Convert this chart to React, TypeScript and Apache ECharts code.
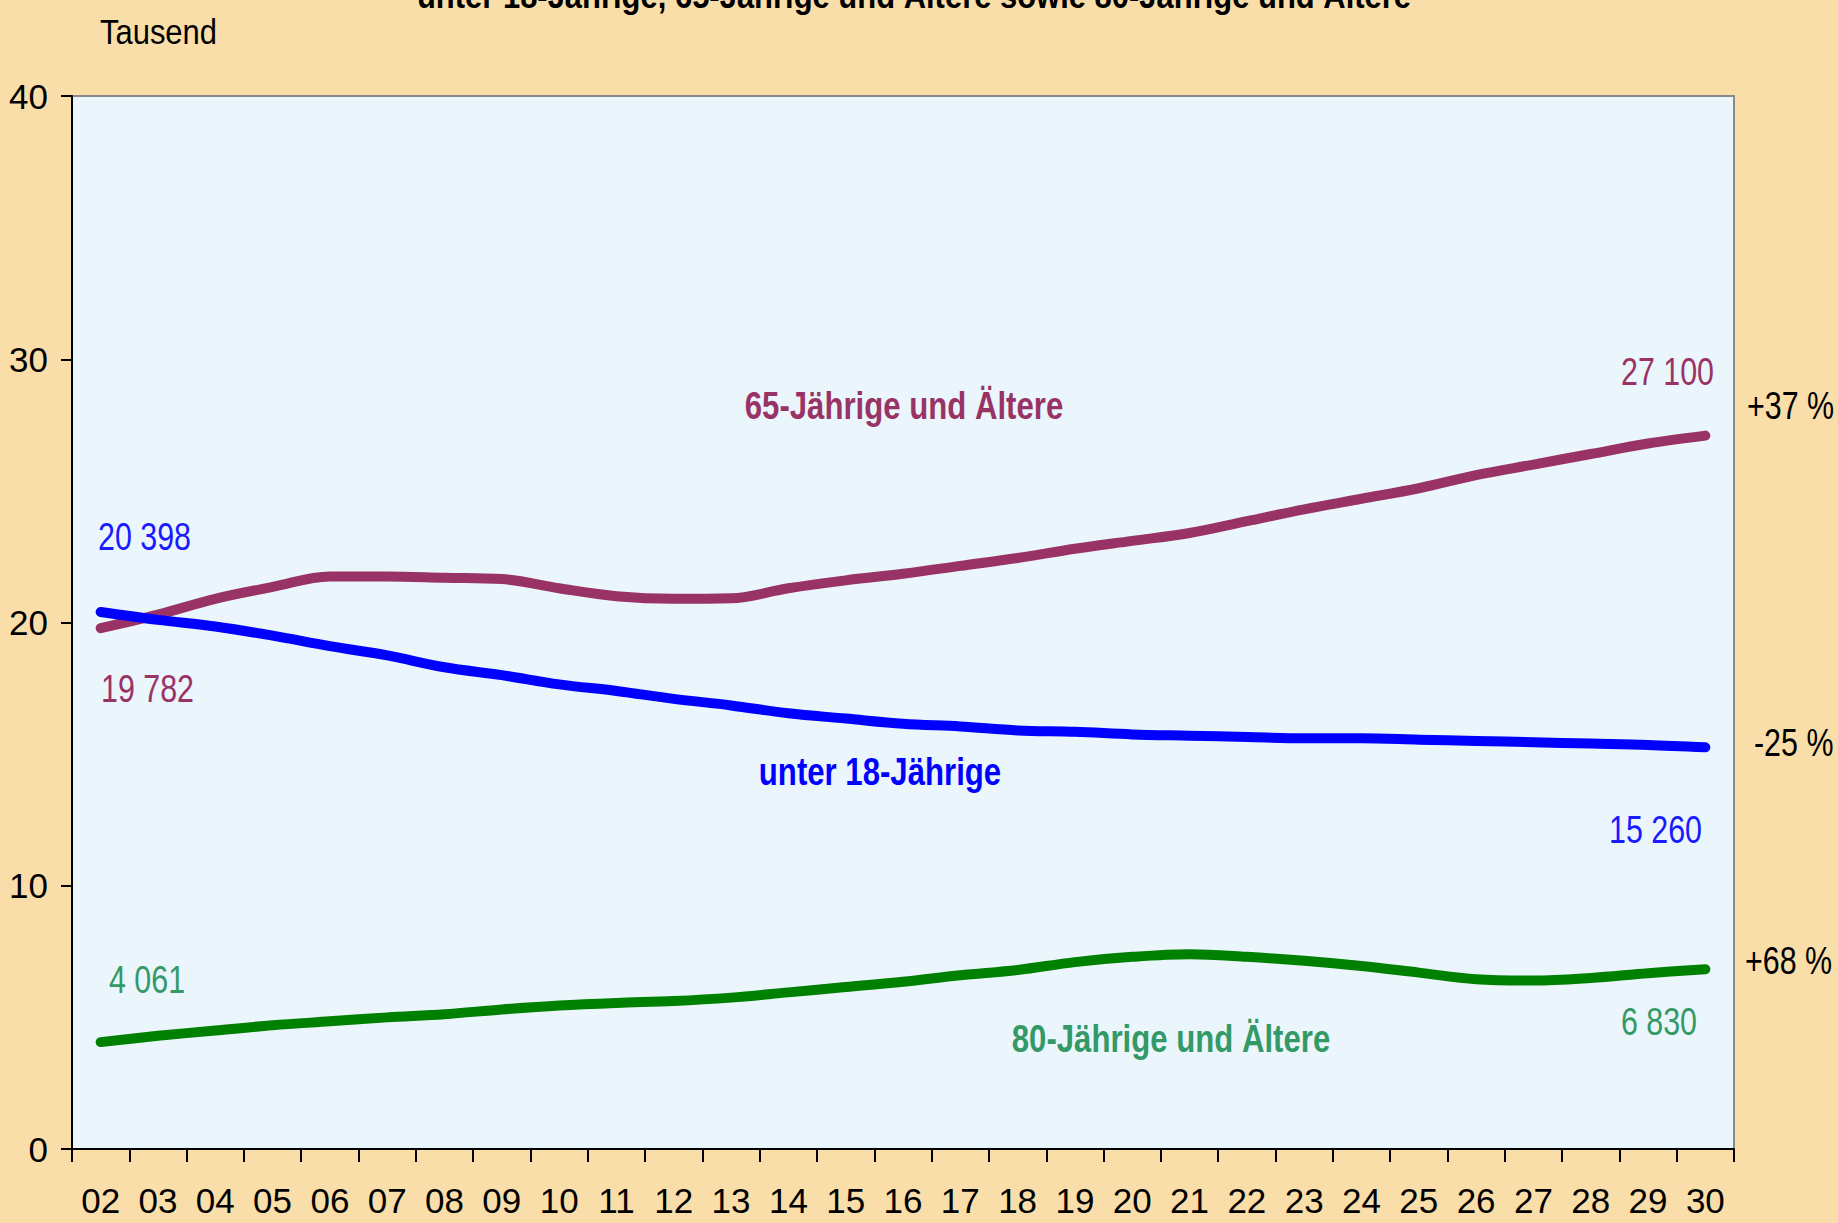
import React, { useEffect, useRef } from "react";
import * as echarts from "echarts";

const years = ["02","03","04","05","06","07","08","09","10","11","12","13","14","15","16","17","18","19","20","21","22","23","24","25","26","27","28","29","30"];
const under18 = [20.398, 20.1, 19.85, 19.5, 19.1, 18.75, 18.3, 18.0, 17.65, 17.4, 17.1, 16.85, 16.55, 16.35, 16.15, 16.05, 15.9, 15.85, 15.75, 15.7, 15.65, 15.6, 15.6, 15.55, 15.5, 15.45, 15.4, 15.35, 15.26];
const age65plus = [19.782, 20.3, 20.9, 21.35, 21.75, 21.75, 21.7, 21.65, 21.3, 21.0, 20.9, 20.92, 21.3, 21.6, 21.85, 22.15, 22.45, 22.8, 23.1, 23.4, 23.85, 24.3, 24.7, 25.1, 25.6, 26.0, 26.4, 26.8, 27.1];
const age80plus = [4.061, 4.3, 4.5, 4.7, 4.85, 5.0, 5.12, 5.3, 5.45, 5.55, 5.62, 5.75, 5.95, 6.15, 6.35, 6.6, 6.8, 7.1, 7.3, 7.4, 7.3, 7.15, 6.95, 6.7, 6.45, 6.4, 6.5, 6.68, 6.83];
const yTicks = { min: 0, max: 40, interval: 10 };
const titleText = "unter 18-Jährige, 65-Jährige und Ältere sowie 80-Jährige und Ältere";
const unitText = "Tausend";
const seriesNames = ["unter 18-Jährige", "65-Jährige und Ältere", "80-Jährige und Ältere"];
const startLabels = ["20 398", "19 782", "4 061"];
const endLabels = ["15 260", "27 100", "6 830"];
const changeLabels = ["-25 %", "+37 %", "+68 %"];

const FONT = '"Liberation Sans", Arial, sans-serif';
const BG = "#F9DEA9";
const PLOT_BG = "#EBF5FC";
const C_PURPLE = "#993366";
const C_BLUE = "#0000FF";
const C_GREEN = "#008000";
const C_GREEN_TXT = "#339966";
const C_BLUE_TXT = "#1A1AFF";

function txt(text: string, x: number, y: number, fill: string, opts: any = {}) {
  return {
    type: "text",
    x,
    y,
    scaleX: opts.scaleX ?? 0.8,
    silent: true,
    style: {
      text,
      fill,
      fontSize: opts.fontSize ?? 38,
      fontFamily: FONT,
      fontWeight: opts.bold ? "bold" : "normal",
      align: opts.align ?? "left",
      verticalAlign: "middle",
    },
  };
}

export default function App() {
  const ref = useRef<HTMLDivElement>(null);
  useEffect(() => {
    document.body.style.margin = "0";
    const chart = echarts.init(ref.current!, undefined, { renderer: "svg" });
    const lineSeries = (name: string, data: number[], color: string) => ({
      name,
      type: "line",
      data,
      smooth: 0.35,
      symbol: "none",
      lineStyle: { color, width: 10, cap: "round", join: "round" },
      z: 3,
    });
    chart.setOption({
      animation: false,
      backgroundColor: BG,
      textStyle: { fontFamily: FONT },
      grid: {
        left: 72,
        top: 96,
        right: 104,
        bottom: 74,
        show: true,
        backgroundColor: PLOT_BG,
        borderColor: "#8a8a8a",
        borderWidth: 2,
      },
      xAxis: {
        type: "category",
        data: years,
        boundaryGap: true,
        axisLine: { show: true, lineStyle: { color: "#000", width: 2 } },
        axisTick: { show: true, length: 13, lineStyle: { color: "#000", width: 2 } },
        axisLabel: { color: "#000", fontSize: 35, fontFamily: FONT, margin: 34, interval: 0 },
        splitLine: { show: false },
      },
      yAxis: {
        type: "value",
        min: yTicks.min,
        max: yTicks.max,
        interval: yTicks.interval,
        axisLine: { show: true, lineStyle: { color: "#000", width: 2 } },
        axisTick: { show: true, inside: false, length: 11, lineStyle: { color: "#000", width: 2 } },
        axisLabel: { color: "#000", fontSize: 35, fontFamily: FONT, margin: 24 },
        splitLine: { show: false },
      },
      series: [
        lineSeries(seriesNames[1], age65plus, C_PURPLE),
        lineSeries(seriesNames[0], under18, C_BLUE),
        lineSeries(seriesNames[2], age80plus, C_GREEN),
      ],
      graphic: [
        txt(titleText, 914, -4, "#000", { align: "center", bold: true, fontSize: 36, scaleX: 0.86 }),
        txt(unitText, 100, 32, "#000", { fontSize: 36, scaleX: 0.86 }),
        txt(startLabels[0], 98, 537, C_BLUE_TXT),
        txt(startLabels[1], 101, 689, C_PURPLE),
        txt(startLabels[2], 109, 980, C_GREEN_TXT),
        txt(seriesNames[1], 904, 406, C_PURPLE, { align: "center", bold: true, scaleX: 0.82 }),
        txt(seriesNames[0], 880, 772, C_BLUE, { align: "center", bold: true, scaleX: 0.82 }),
        txt(seriesNames[2], 1171, 1039, C_GREEN_TXT, { align: "center", bold: true, scaleX: 0.82 }),
        txt(endLabels[1], 1714, 372, C_PURPLE, { align: "right" }),
        txt(endLabels[0], 1702, 830, C_BLUE_TXT, { align: "right" }),
        txt(endLabels[2], 1697, 1022, C_GREEN_TXT, { align: "right" }),
        txt(changeLabels[1], 1747, 406, "#000"),
        txt(changeLabels[0], 1754, 743, "#000"),
        txt(changeLabels[2], 1745, 961, "#000"),
      ],
    });
    return () => chart.dispose();
  }, []);
  return <div ref={ref} style={{ width: 1838, height: 1223 }} />;
}
